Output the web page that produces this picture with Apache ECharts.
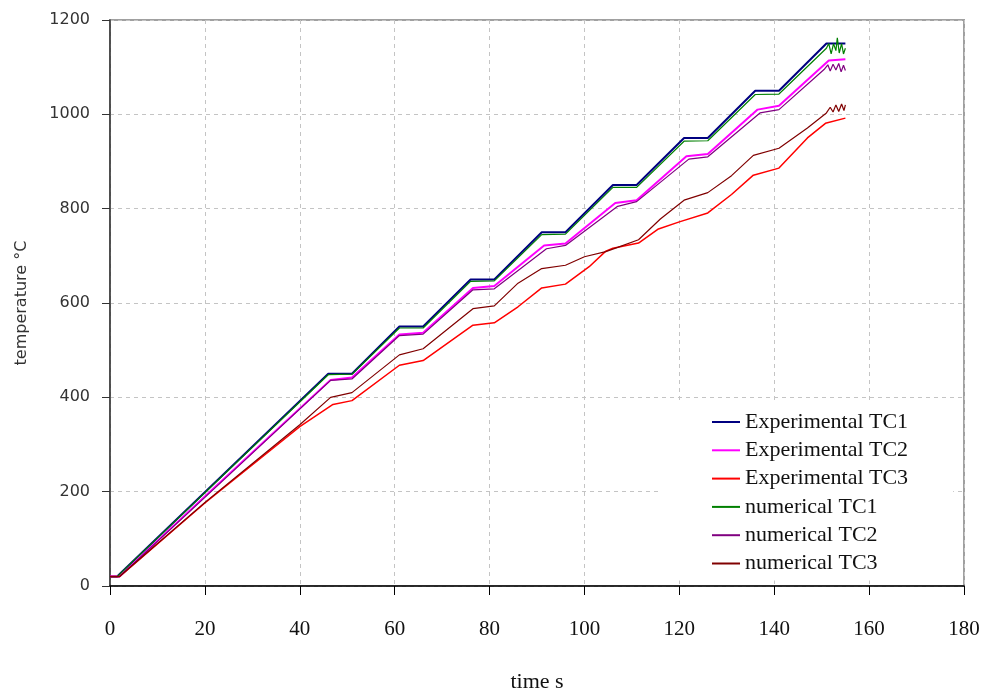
<!DOCTYPE html>
<html>
<head>
<meta charset="utf-8">
<script src="https://cdn.jsdelivr.net/npm/echarts@6/dist/echarts.min.js"></script>
<style>html,body{margin:0;padding:0;background:#fff}#c{width:981px;height:690px}</style>
</head>
<body>
<div id="c"></div>
<script>
// ---- data ----
const seriesNames = ['Experimental TC1','Experimental TC2','Experimental TC3','numerical TC1','numerical TC2','numerical TC3'];
const xTicks = [0,20,40,60,80,100,120,140,160,180];
const yTicks = [0,200,400,600,800,1000,1200];

const expTC1_t = [0,1.5,46,51,61,66,76,81,91,96,106,111,121,126,136,141,151,155];
const expTC1_v = [20,20,450,450,550,550,650,650,750,750,850,850,950,950,1050,1050,1150,1150];

const expTC2_t = [0,2,20,46.5,51,61,66,76.5,81,91.5,96,106.5,111,121.5,126,136.5,141,151.5,155];
const expTC2_v = [20,20,190,437,442,533,537,632,636,722,726,812,818,911,916,1010,1018,1114,1117];

const expTC3_t = [0,2,20,40,47,51,61,66,76.5,81,86,91,96,101,104.5,106,111.4,115.6,120,126,131,135.6,141,147,150.8,155];
const expTC3_v = [20,20,176,338,385,393,468,478,553,558,592,632,640,677,710,716,727,757,772,791,830,871,886,950,981,992];

const numTC1_t = [0,1.5,46,51,61,66,76,81,91,96,106,111,121,126,136,141,151,151.5,152,152.5,153,153.3,153.7,154.2,154.6,155];
const numTC1_v = [20,20,448,449,547,547,646,647,745,746,845,845,943,944,1042,1043,1140,1150,1128,1150,1135,1162,1130,1150,1128,1140];

const numTC2_t = [0,2,20,46.5,51,61,66,76.5,81,92,96,107,111,122,126,137,141,150.5,151.3,151.8,152.4,153,153.6,154.1,154.6,155];
const numTC2_v = [20,20,188,436,439,531,534,628,630,715,722,805,815,905,910,1003,1010,1095,1105,1092,1106,1094,1108,1090,1104,1093];

const numTC3_t = [0,2,20,40,46.5,51,61,66,76.5,81,86,91,96,100,104.5,107,111.4,116,121,126,131,135.6,141,147,151,151.8,152.4,153,153.6,154.2,154.7,155];
const numTC3_v = [20,20,177,342,400,410,490,503,588,594,642,673,680,698,709,718,734,778,818,834,870,913,928,971,1003,1015,1005,1020,1006,1022,1008,1020];

const colors = ['#000080','#ff00ff','#ff0000','#008000','#800080','#800000'];
const widths = [2,2,1.5,1.2,1.2,1.2];

const pairs = (t, v) => t.map((x, i) => [x, v[i]]);
const allData = [
  pairs(expTC1_t, expTC1_v), pairs(expTC2_t, expTC2_v), pairs(expTC3_t, expTC3_v),
  pairs(numTC1_t, numTC1_v), pairs(numTC2_t, numTC2_v), pairs(numTC3_t, numTC3_v)
];

const chart = echarts.init(document.getElementById('c'), null, {renderer: 'canvas'});
const serifFont = '"Liberation Serif", "DejaVu Serif", serif';
const sansFont = '"DejaVu Sans", Verdana, sans-serif';

chart.setOption({
  animation: false,
  backgroundColor: '#fff',
  color: colors,
  grid: {
    left: 110, right: 17, top: 20, bottom: 104,
    containLabel: false, outerBoundsMode: 'none',
    show: true, borderColor: '#a0a0a0', borderWidth: 2, backgroundColor: 'transparent'
  },
  legend: {
    orient: 'vertical',
    left: 662, top: 404,
    padding: [7, 45, 6, 50],
    backgroundColor: '#fff',
    itemGap: 6.3,
    itemWidth: 28, itemHeight: 2,
    icon: 'rect',
    textStyle: {fontFamily: serifFont, fontSize: 22, lineHeight: 22, color: '#111'},
    data: seriesNames
  },
  xAxis: {
    type: 'value', min: xTicks[0], max: xTicks[xTicks.length-1], interval: 20,
    name: 'time s', nameLocation: 'middle', nameGap: 85,
    nameTextStyle: {fontFamily: serifFont, fontSize: 22, color: '#111'},
    axisLine: {show: true, lineStyle: {color: '#000', width: 1.5}},
    axisTick: {show: true, length: 9, lineStyle: {color: '#000'}},
    axisLabel: {fontFamily: serifFont, fontSize: 21, color: '#111', margin: 33},
    splitLine: {show: true, lineStyle: {color: '#c4c4c4', type: [4, 4], width: 1}}
  },
  yAxis: {
    type: 'value', min: yTicks[0], max: yTicks[yTicks.length-1], interval: 200,
    name: 'temperature °C', nameLocation: 'middle', nameGap: 80, nameRotate: 90,
    nameTextStyle: {fontFamily: sansFont, fontSize: 16, color: '#333'},
    axisLine: {show: true, lineStyle: {color: '#333', width: 1.5}},
    axisTick: {show: true, length: 8, lineStyle: {color: '#333'}},
    axisLabel: {fontFamily: sansFont, fontSize: 16, color: '#333', margin: 20, formatter: v => String(v)},
    splitLine: {show: true, lineStyle: {color: '#c4c4c4', type: [4, 4], width: 1}}
  },
  series: seriesNames.map((n, i) => ({
    name: n, type: 'line', data: allData[i], showSymbol: false, symbol: 'none',
    lineStyle: {color: colors[i], width: widths[i]}, itemStyle: {color: colors[i]},
    z: 2 + i
  }))
});
</script>
</body>
</html>
